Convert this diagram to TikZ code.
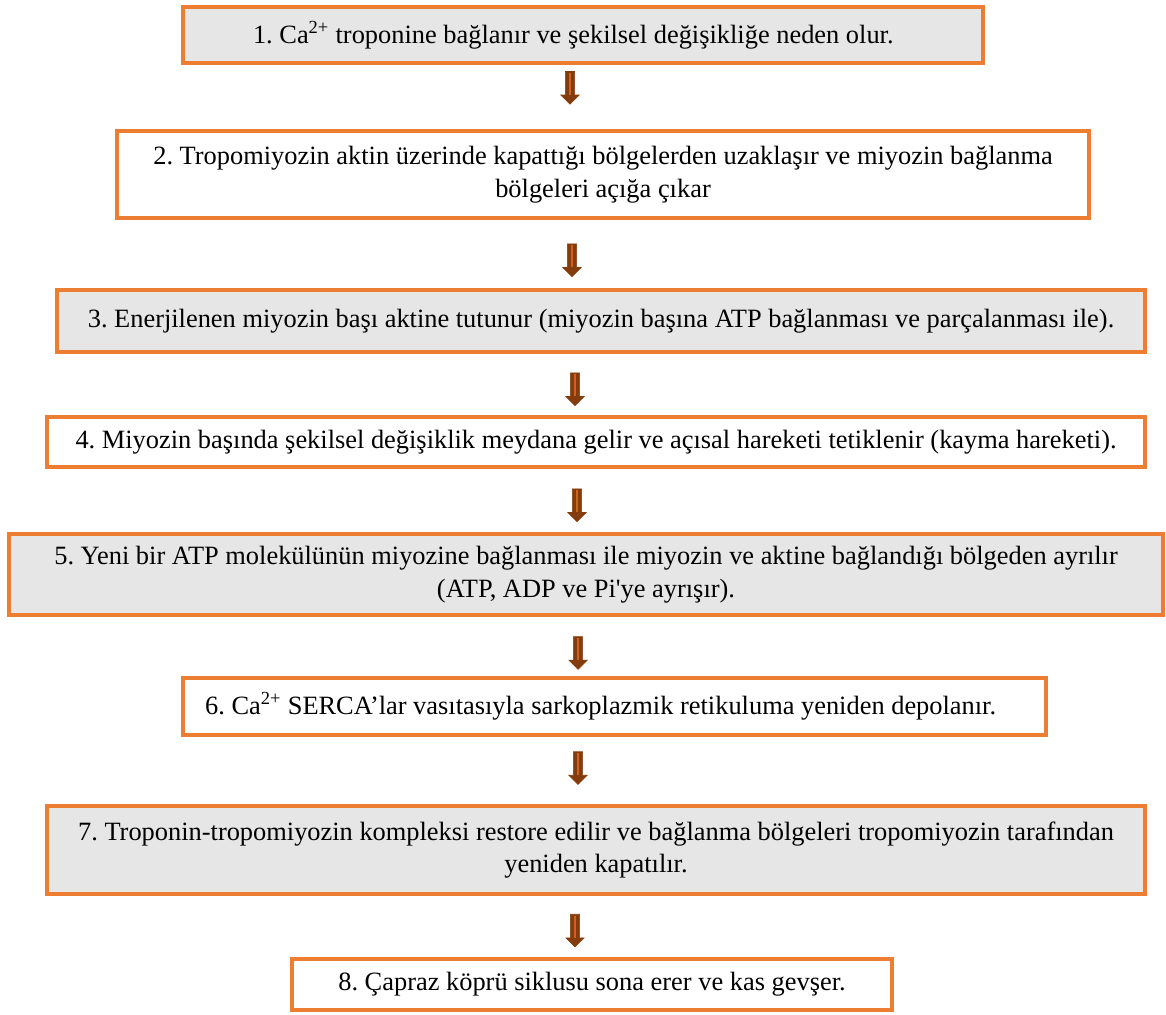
\documentclass[tikz,border=0pt]{standalone}
\usepackage{fontspec}
\setmainfont{Liberation Serif}
\usetikzlibrary{shapes.arrows}
\definecolor{boxorange}{HTML}{ED7D31}
\definecolor{boxgray}{HTML}{E7E6E6}
\definecolor{arrowbrown}{HTML}{843C0C}
\definecolor{arrowstripe}{HTML}{CC641F}
\frenchspacing

\tikzset{
  stepbox/.style={draw=boxorange, line width=3pt, align=center, inner sep=0pt,
    font=\fontsize{19.8}{24.3}\selectfont},
  graybox/.style={stepbox, fill=boxgray},
  whitebox/.style={stepbox, fill=white},
  downarrow/.style={single arrow, shape border rotate=270, draw=arrowbrown, fill=arrowbrown,
    line width=0.5pt, inner sep=3.2pt, minimum width=13.5pt, minimum height=24.5pt,
    single arrow head extend=3.4pt,
    path picture={\draw[arrowstripe, line width=0.8pt]
      ([yshift=-1pt]path picture bounding box.north) -- ([yshift=7pt]path picture bounding box.south);}}
}

\begin{document}
\begin{tikzpicture}[x=0.75pt, y=-0.75pt]
\useasboundingbox (0,0) rectangle (1166,1014);
% steps
\node[graybox, minimum width=600pt, minimum height=42pt, align=flush left, text width=495pt] (s1) at (583,35)
  {1. Ca\textsuperscript{2+} troponine bağlanır ve şekilsel değişikliğe neden olur.};
\node[whitebox, minimum width=729pt, minimum height=65pt] (s2) at (603,174.5)
  {2. Tropomiyozin aktin üzerinde kapattığı bölgelerden uzaklaşır ve miyozin bağlanma\\ bölgeleri açığa çıkar};
\node[graybox, minimum width=816pt, minimum height=46.5pt] (s3) at (601,321)
  {3. Enerjilenen miyozin başı aktine tutunur (miyozin başına ATP bağlanması ve parçalanması ile).};
\node[whitebox, minimum width=823.5pt, minimum height=37.5pt] (s4) at (596,442)
  {4. Miyozin başında şekilsel değişiklik meydana gelir ve açısal hareketi tetiklenir (kayma hareketi).};
\node[graybox, minimum width=865.5pt, minimum height=60.75pt] (s5) at (586,574.5)
  {5. Yeni bir ATP molekülünün miyozine bağlanması ile miyozin ve aktine bağlandığı bölgeden ayrılır\\ (ATP, ADP ve Pi\textquotesingle ye ayrışır).};
\node[whitebox, minimum width=647pt, minimum height=42.75pt, align=flush left, text width=614pt] (s6) at (614.5,706.5)
  {6. Ca\textsuperscript{2+} SERCA’lar vasıtasıyla sarkoplazmik retikuluma yeniden depolanır.};
\node[graybox, minimum width=823.5pt, minimum height=66pt] (s7) at (596,850)
  {7. Troponin-tropomiyozin kompleksi restore edilir ve bağlanma bölgeleri tropomiyozin tarafından\\ yeniden kapatılır.};
\node[whitebox, minimum width=450pt, minimum height=38.25pt] (s8) at (592,984.5)
  {8. Çapraz köprü siklusu sona erer ve kas gevşer.};
% arrow columns
\coordinate (c1) at (570,0);
\coordinate (c2) at (572,0);
\coordinate (c3) at (575,0);
\coordinate (c4) at (577,0);
\coordinate (c5) at (578,0);
% arrows
\path (s1.south -| c1) -- (s2.north -| c1) node[downarrow, pos=0.32] (a1) {};
\path (s2.south -| c2) -- (s3.north -| c2) node[downarrow, pos=0.56] (a2) {};
\path (s3.south -| c3) -- (s4.north -| c3) node[downarrow, pos=0.54] (a3) {};
\path (s4.south -| c4) -- (s5.north -| c4) node[downarrow, pos=0.54] (a4) {};
\path (s5.south -| c5) -- (s6.north -| c5) node[downarrow, pos=0.57] (a5) {};
\path (s6.south -| c5) -- (s7.north -| c5) node[downarrow, pos=0.43] (a6) {};
\path (s7.south -| c3) -- (s8.north -| c3) node[downarrow, pos=0.53] (a7) {};
\end{tikzpicture}
\end{document}
